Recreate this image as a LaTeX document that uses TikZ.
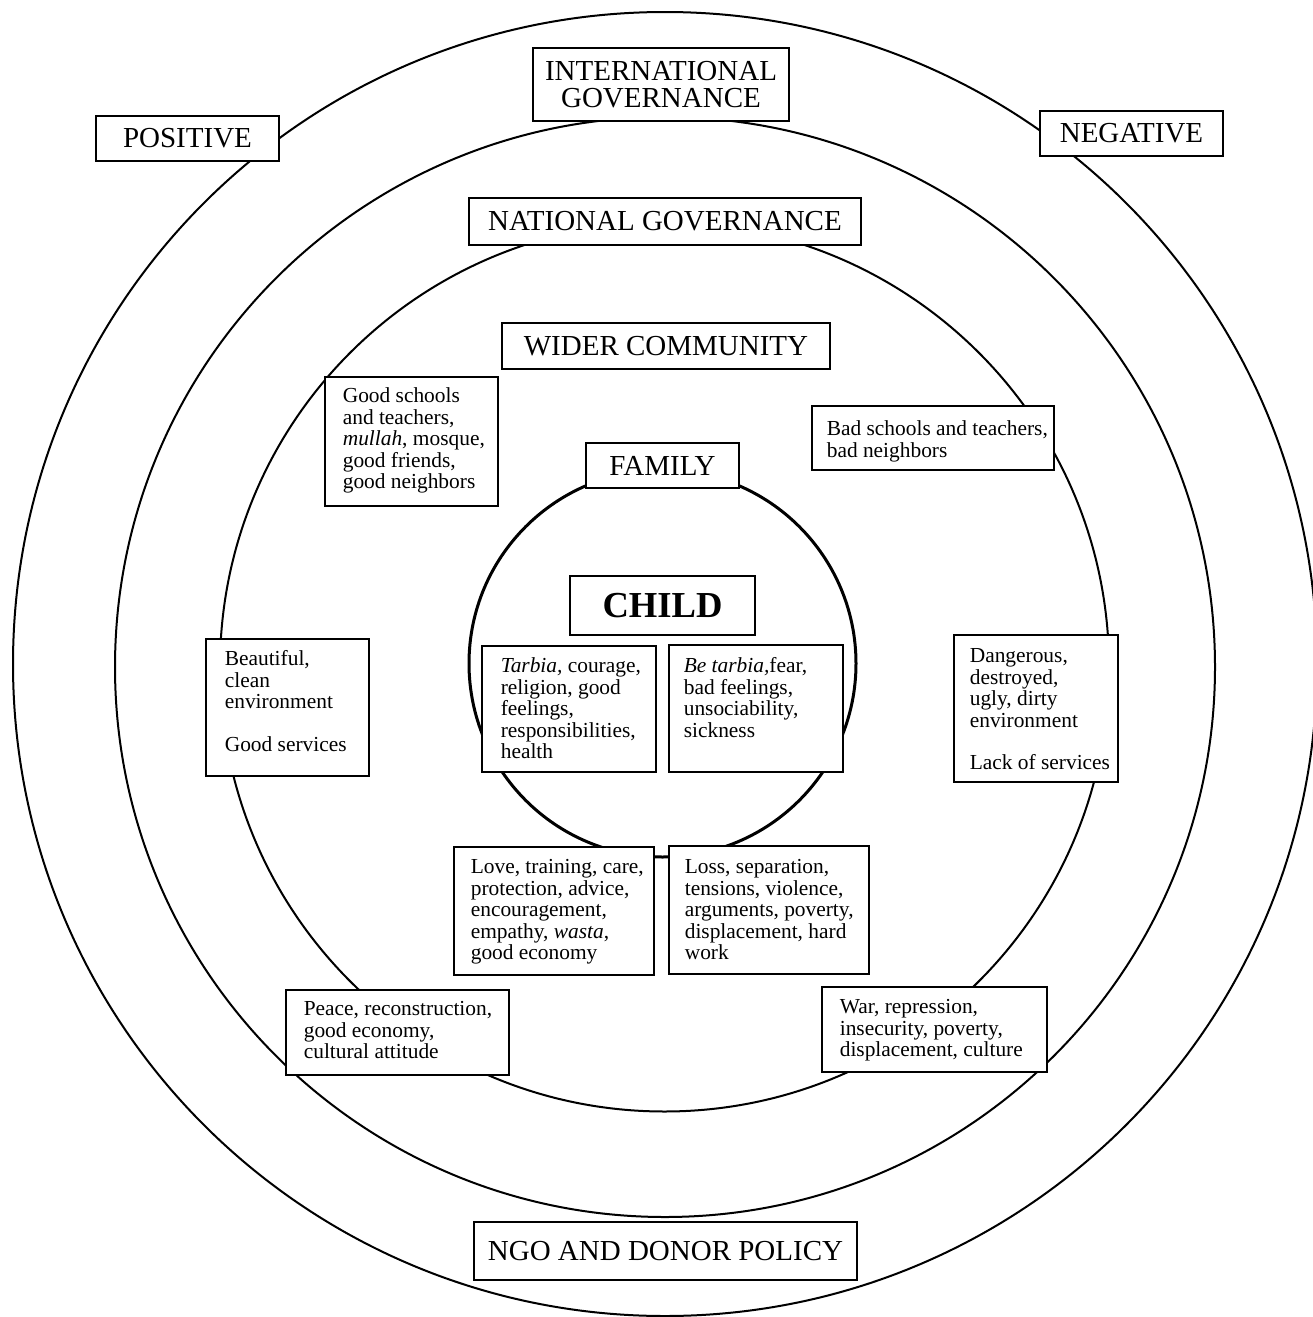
\documentclass[tikz,border=0pt]{standalone}
\usepackage{fontspec}
\setmainfont{Liberation Serif}
\newcommand{\tb}[5]{\parbox[t][#2][t]{#1}{\hspace*{#3}\begin{tabular}[t]{@{}l@{}}\rule{0pt}{#4}#5\end{tabular}}}
\begin{document}
\begin{tikzpicture}[x=1pt,y=-1pt,
  ring/.style={line width=2pt},
  famring/.style={line width=3pt},
  lbl/.style={draw, line width=1.6pt, fill=white, inner sep=0pt, align=center,
    font=\fontsize{29}{27}\selectfont},
  txt/.style={draw, line width=1.6pt, fill=white, inner sep=0pt, anchor=north west,
    font=\fontsize{21.4}{21.4}\selectfont}]
\useasboundingbox (0,0) rectangle (1312,1317);
\fill[white] (0,0) rectangle (1312,1317);
% rings
\draw[ring] (665,664) circle[radius=652pt];
\draw[ring] (665,667) circle[radius=550pt];
\draw[ring] (664.5,667) circle[radius=444.5pt];
\draw[famring] (662.5,663.5) circle[radius=193.5pt];
% level labels
\node[lbl, minimum width=256pt, minimum height=73pt] (intl) at (661,84.5) {INTERNATIONAL\\GOVERNANCE};
\node[lbl, minimum width=183pt, minimum height=45pt] (pos) at (187.5,138.5) {POSITIVE};
\node[lbl, minimum width=183pt, minimum height=45pt] (neg) at (1131.5,133.5) {NEGATIVE};
\node[lbl, minimum width=392pt, minimum height=47pt] (nat) at (665,221.5) {NATIONAL GOVERNANCE};
\node[lbl, minimum width=328pt, minimum height=46pt] (wider) at (666,346) {WIDER COMMUNITY};
\node[lbl, minimum width=153pt, minimum height=45pt] (fam) at (662.5,465.5) {FAMILY};
\node[lbl, minimum width=185pt, minimum height=59pt, font=\fontsize{36.6}{40}\selectfont\bfseries] (child) at (662.5,605.5) {CHILD};
\node[lbl, minimum width=383pt, minimum height=58pt] (ngo) at (665.5,1251) {NGO AND DONOR POLICY};
% text boxes
\node[txt] (good) at (324,376) {\tb{173pt}{129pt}{18pt}{26pt}{Good schools\\and teachers,\\\textit{mullah}, mosque,\\good friends,\\good neighbors}};
\node[txt] (bad) at (811,405) {\tb{242pt}{64pt}{15pt}{30pt}{Bad schools and teachers,\\bad neighbors}};
\node[txt] (beau) at (205,638) {\tb{163pt}{137pt}{19pt}{27pt}{Beautiful,\\clean\\environment\\[21.4pt]Good services}};
\node[txt] (dang) at (953,634) {\tb{164pt}{147pt}{16pt}{28pt}{Dangerous,\\destroyed,\\ugly, dirty\\environment\\[21.4pt]Lack of services}};
\node[txt] (tarb) at (481,645) {\tb{174pt}{126pt}{19pt}{27pt}{\textit{Tarbia,} courage,\\religion, good\\feelings,\\responsibilities,\\health}};
\node[txt] (btarb) at (668,644) {\tb{174pt}{127pt}{15pt}{28pt}{\textit{Be tarbia,}fear,\\bad feelings,\\unsociability,\\sickness}};
\node[txt] (love) at (453,846) {\tb{200pt}{128pt}{17pt}{27pt}{Love, training, care,\\protection, advice,\\encouragement,\\empathy, \textit{wasta},\\good economy}};
\node[txt] (loss) at (668,845) {\tb{200pt}{128pt}{16pt}{28pt}{Loss, separation,\\tensions, violence,\\arguments, poverty,\\displacement, hard\\work}};
\node[txt] (peace) at (285,989) {\tb{223pt}{85pt}{18pt}{26pt}{Peace, reconstruction,\\good economy,\\cultural attitude}};
\node[txt] (war) at (821,986) {\tb{225pt}{85pt}{18pt}{27pt}{War, repression,\\insecurity, poverty,\\displacement, culture}};
\end{tikzpicture}
\end{document}
